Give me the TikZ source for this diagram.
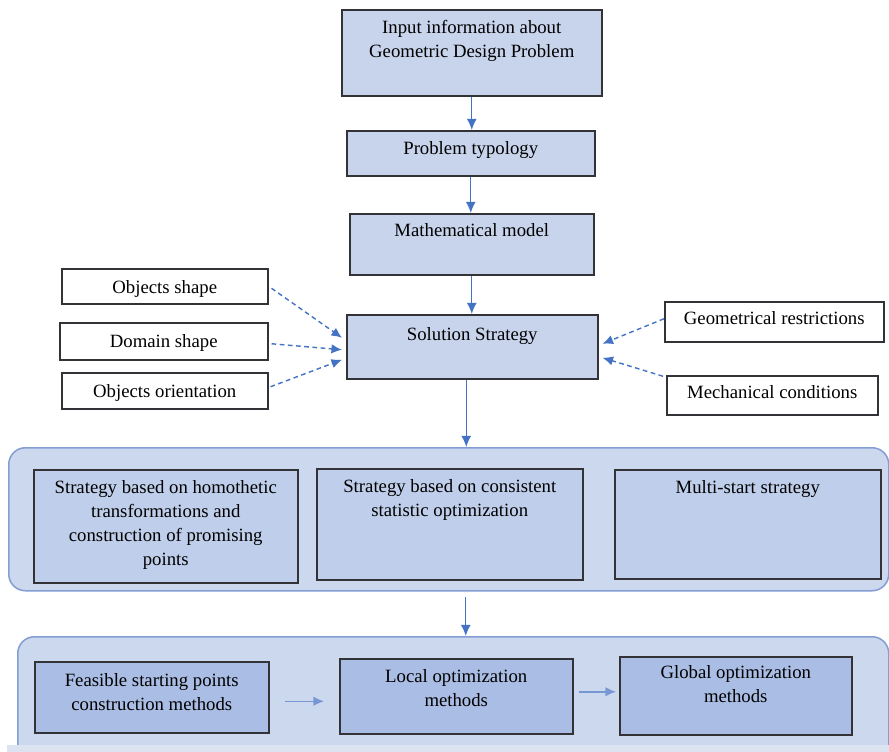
\documentclass[tikz,border=0pt]{standalone}
\usepackage{fontspec}
\setmainfont{Liberation Serif}
\usetikzlibrary{calc,arrows.meta}
\newlength\pxl \setlength\pxl{0.03cm}
\definecolor{boxfill}{RGB}{199,212,236}
\definecolor{innerfill}{RGB}{191,206,234}
\definecolor{darkfill}{RGB}{170,189,228}
\definecolor{contfill}{RGB}{204,216,238}
\definecolor{contline}{RGB}{132,158,212}
\definecolor{boxline}{RGB}{50,50,55}
\definecolor{arrcol}{RGB}{68,114,196}
\definecolor{lightarr}{RGB}{118,150,212}
\definecolor{stripcol}{RGB}{220,227,241}
\newcommand\fsz{\fontsize{16}{20.5}\selectfont}
\tikzset{
  pbox/.style={draw=boxline, fill=boxfill, line width=1.3pt, inner sep=0pt, anchor=north west, font=\fsz},
  wbox/.style={pbox, fill=white},
  ibox/.style={pbox, fill=innerfill},
  dbox/.style={pbox, fill=darkfill},
  cont/.style={draw=contline, fill=contfill, line width=1.3pt, rounded corners=0.5cm, inner sep=0pt, anchor=north west},
  arr/.style={draw=arrcol, line width=1.2pt, -{Latex[length=9.5pt,width=8.5pt]}},
  darr/.style={draw=arrcol, line width=1.2pt, dash pattern=on 4pt off 3pt, -{Latex[length=9pt,width=8pt]}},
  larr/.style={draw=lightarr, line width=1.3pt, -{Latex[length=9pt,width=8pt]}},
}
% [style]{name}{x}{y}{w}{h}{top pad}{text}
\newcommand\bx[8][pbox]{\node[#1] (#2) at (#3,#4) {\parbox[c][#6\pxl][t]{#5\pxl}{\centering\vspace*{#7\pxl}\strut #8\par}};}
\begin{document}
\begin{tikzpicture}[x=0.03cm,y=-0.03cm]
\useasboundingbox (0,0) rectangle (889,752);
\clip (0,0) rectangle (889,752);
\fill[white] (0,0) rectangle (889,752);

% main chain
\bx{in}{341}{9}{260}{86}{7}{Input information about\\Geometric Design Problem}
\bx{pt}{346}{130}{248}{45}{7}{Problem typology}
\bx{mm}{349}{213}{244}{61}{6}{Mathematical model}
\bx{ss}{346}{314}{251}{64}{9}{Solution Strategy}

% side boxes
\bx[wbox]{os}{61}{268}{206}{35}{8}{Objects shape}
\bx[wbox]{ds}{59}{322}{208}{37}{8}{Domain shape}
\bx[wbox]{oo}{61}{372}{206}{36}{8}{Objects orientation}
\bx[wbox]{gr}{664}{301}{219}{40}{6}{Geometrical restrictions}
\bx[wbox]{mc}{666}{375}{211}{39}{6}{Mechanical conditions}

% container 1
\node[cont, minimum width=880\pxl, minimum height=143\pxl] (c1) at (8,447) {};
\bx[ibox]{sa}{33}{469}{264}{113}{7}{Strategy based on homothetic\\transformations and\\construction of promising\\points}
\bx[ibox]{sb}{316}{468}{266}{111}{7}{Strategy based on consistent\\statistic optimization}
\bx[ibox]{sc}{614}{469}{266}{109}{7}{Multi-start strategy}

% container 2
\node[cont, minimum width=871\pxl, minimum height=125\pxl] (c2) at (17,636) {};
\fill[stripcol] (7,745) rectangle (889,752);
\bx[dbox]{fs}{34}{661}{234}{71}{8}{Feasible starting points\\construction methods}
\bx[dbox]{lo}{339}{658}{233}{75}{7}{Local optimization\\methods}
\bx[dbox]{go}{619}{656}{232}{78}{5}{Global optimization\\methods}

% solid arrows
\draw[arr] (in.south) -- (in.south |- pt.north);
\draw[arr] (pt.south) -- (pt.south |- mm.north);
\draw[arr] (mm.south) -- (mm.south |- ss.north);
\coordinate (s1) at ($(ss.south)+(-6,0)$);
\draw[arr] (s1) -- (s1 |- c1.north);
\coordinate (s2) at ($(c1.south)+(17,0)$);
\draw[arr, shorten <=5pt] (s2) -- (s2 |- c2.north);

% dashed arrows
\draw[darr] ($(os.east)+(3,2)$) -- ($(ss.west)+(-4,-9)$);
\draw[darr] ($(ds.east)+(3,2.5)$) -- ($(ss.west)+(-4,3)$);
\draw[darr] ($(oo.east)+(2,-4)$) -- ($(ss.west)+(-4,13)$);
\draw[darr] ($(gr.west)+(0,-3)$) -- ($(ss.east)+(4,-3)$);
\draw[darr] ($(mc.west)+(-3,-19)$) -- ($(ss.east)+(4,11)$);

% bottom arrows
\draw[larr] ($(fs.east)+(15,4)$) -- ($(lo.west)+(-15,5)$);
\draw[larr] ($(lo.east)+(5,-4.5)$) -- ($(go.west)+(-3,-4)$);
\end{tikzpicture}
\end{document}
